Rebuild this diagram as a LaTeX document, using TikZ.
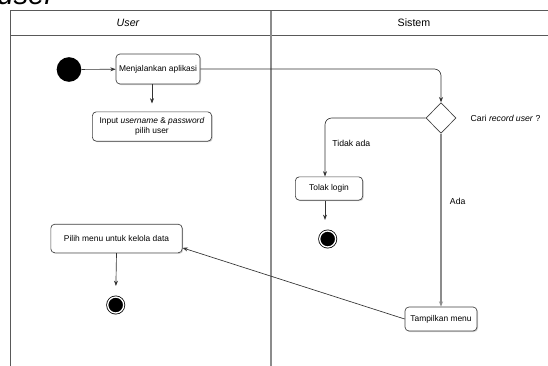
\documentclass[tikz,border=0pt]{standalone}
\usepackage{fontspec}
\setmainfont{Liberation Sans}
\usetikzlibrary{arrows.meta,shapes,shadows,positioning,calc}
\tikzstyle{flow}=[-{Stealth[length=4pt,width=3pt]},draw=black!80,line width=0.5pt]
\tikzstyle{activity}=[draw=black!75,rounded corners=3pt,fill=white,line width=0.5pt,
  drop shadow={shadow xshift=0.8pt,shadow yshift=-0.8pt,opacity=0.35},
  font=\fontsize{6.3}{7.6}\selectfont,align=center,inner sep=0pt]
\tikzstyle{start state}=[circle,fill=black,minimum size=18.5pt,inner sep=0pt]
\tikzstyle{end state}=[circle,fill=black,draw=black,double=white,double distance=1pt,
  line width=0.6pt,minimum size=12pt,inner sep=0pt]
\tikzstyle{decision}=[diamond,draw=black!75,fill=white,line width=0.5pt,
  minimum width=22.5pt,minimum height=23pt,inner sep=0pt]
\tikzstyle{label}=[font=\fontsize{6.5}{7.8}\selectfont]

\begin{document}
\begin{tikzpicture}[x=0.75pt,y=-0.75pt]
  \useasboundingbox (0,0) rectangle (548,365);
  \clip (0,0) rectangle (548,365);

  % cut off caption line
  \node[anchor=base west,inner sep=0pt,font=\fontsize{22}{24}\selectfont\itshape] (cap) at (-3,4.5) {user};

  % swimlanes
  \draw[black!65,line width=0.7pt] (10,380) -- (10,10.5) -- (560,10.5);
  \draw[black!65,line width=0.7pt] (10,35) -- (560,35);
  \draw[black!45,line width=0.8pt] (271,10.5) -- (271,380);
  \node[font=\fontsize{8}{9}\selectfont\itshape] (lane1) at (128,22.5) {User};
  \node[font=\fontsize{8}{9}\selectfont] (lane2) at (414,22.5) {Sistem};

  % user lane
  \node[start state] (start) at (69,69.5) {};
  \node[activity,minimum width=63pt,minimum height=22.5pt] (jalan) at (158,69) {Menjalankan aplikasi};
  \node[activity,minimum width=89.5pt,minimum height=22pt] (input) at (152,126.5)
    {Input \textit{username} \& \textit{password}\\pilih user};
  \node[activity,minimum width=98.5pt,minimum height=21.5pt] (pilih) at (116.5,238.5) {Pilih menu untuk kelola data};
  \node[end state] (end1) at (115.7,305) {};

  % sistem lane
  \node[decision] (cari) at (441,118) {};
  \node[label,anchor=west] (carilbl) at (466,118) {Cari \textit{record user} ?};
  \node[activity,minimum width=50.5pt,minimum height=17.5pt] (tolak) at (329,188.5) {Tolak login};
  \node[end state] (end2) at (327.7,239) {};
  \node[activity,minimum width=54pt,minimum height=18pt] (tampil) at (441,319) {Tampilkan menu};

  \draw[flow] (start) -- (jalan);
  \draw[flow,shorten >=6pt] (input.north |- jalan.south) -- (input.north);
  \draw[flow,rounded corners=5pt] (jalan) -| (cari);
  \draw[flow,rounded corners=5pt] (cari.west) -| ([xshift=-3pt]tolak.north)
    node[label,pos=0.72,right=2pt] {Tidak ada};
  \draw[flow,shorten >=8pt] ([xshift=-3pt]tolak.south) -- ([xshift=-3pt]tolak.south |- end2.north);
  \draw[flow,draw=black!45,line width=0.8pt] (cari.south) -- (tampil.north)
    node[label,text=black,pos=0.39,right=3pt] {Ada};
  \draw[flow] (tampil.west) -- ([yshift=-7pt]pilih.east);
  \draw[flow,shorten >=8pt] (pilih.south) -- (end1.north);
\end{tikzpicture}
\end{document}
